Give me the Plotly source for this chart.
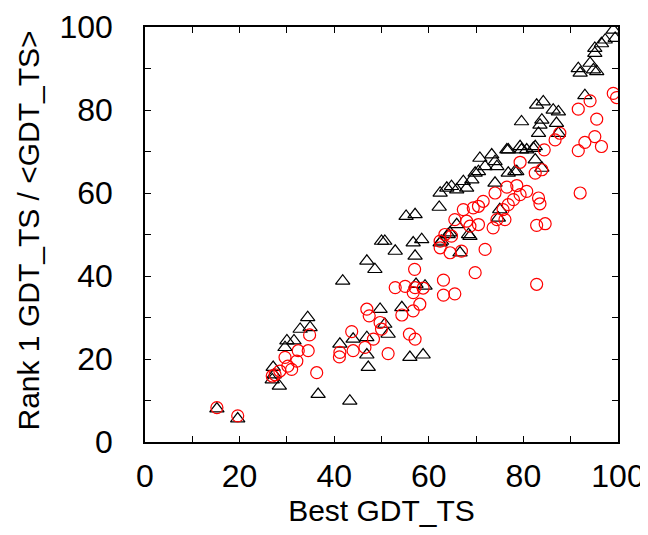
import plotly.graph_objects as go

# Black open triangles (series 1): Best GDT_TS vs Rank 1 GDT_TS
tri_x = [15.2, 19.6, 27.1, 27.3, 26.9, 28.4, 29.6, 30.0, 31.5, 32.8, 34.4, 34.9, 36.6,
         41.2, 43.3, 44.0, 46.9, 46.9, 47.2, 41.8, 46.9, 48.6, 50.0, 50.7, 49.7, 50.7,
         51.4, 52.9, 55.2, 57.1, 56.7, 58.5, 57.1, 57.3, 54.3, 56.0, 58.8, 59.2, 62.2,
         62.4, 63.8, 64.8, 65.9, 67.3, 68.0, 69.1, 69.8, 70.5, 70.8, 71.9, 73.3, 74.0,
         74.4, 74.0, 76.8, 76.8, 78.6, 79.3, 80.7, 82.5, 75.0, 74.7, 65.9, 64.5, 68.7,
         62.7, 66.6, 62.4, 64.1, 68.4, 84.2, 82.8, 86.3, 87.4, 79.6, 83.9, 83.5, 87.0,
         83.2, 87.4, 82.1, 82.5, 83.9, 78.2, 76.5, 79.6, 93.0, 91.6, 92.0, 94.8, 95.5,
         94.1, 95.1, 95.1, 96.5, 97.3, 99.4, 99.0]
tri_y = [8.0, 5.6, 18.0, 16.2, 15.0, 13.5, 22.8, 24.4, 24.4, 27.2, 30.0, 27.6, 11.5,
         23.6, 9.9, 24.8, 25.2, 21.0, 18.0, 38.8, 43.6, 41.6, 48.4, 48.4, 32.0, 28.4,
         26.0, 46.0, 54.4, 54.8, 48.0, 48.8, 44.8, 38.0, 32.4, 20.4, 21.0, 37.6, 56.6,
         60.0, 61.2, 61.6, 60.8, 62.8, 61.2, 63.2, 64.8, 65.2, 68.4, 66.4, 69.2, 67.6,
         66.4, 62.4, 70.4, 64.8, 65.2, 71.2, 70.4, 71.2, 56.0, 54.0, 52.4, 50.4, 49.6,
         48.4, 45.6, 48.0, 50.0, 50.0, 82.0, 81.2, 80.0, 79.6, 77.2, 77.6, 76.4, 76.8,
         74.4, 74.4, 70.8, 68.0, 66.0, 65.2, 70.4, 70.4, 83.5, 90.0, 88.9, 89.7, 89.3,
         91.3, 94.9, 93.7, 96.0, 96.9, 97.3, 99.3]

# Red open circles (series 2): Best GDT_TS vs <GDT_TS>
cir_x = [15.2, 19.6, 26.9, 27.5, 28.5, 29.6, 30.2, 31.0, 32.1, 32.4, 34.5, 34.8, 36.3,
         41.2, 41.1, 43.7, 44.0, 46.5, 48.3, 46.9, 47.4, 49.7, 50.0, 51.4, 55.9, 57.1,
         54.3, 56.7, 58.1, 52.9, 55.0, 57.1, 58.8, 57.0, 56.7, 63.1, 63.1, 65.5, 62.4,
         62.4, 63.4, 64.8, 64.5, 66.9, 65.5, 67.3, 68.0, 68.7, 69.4, 70.5, 70.5, 71.5,
         71.9, 69.8, 73.6, 74.4, 76.1, 74.0, 75.7, 76.8, 77.9, 79.3, 76.5, 78.6, 80.7,
         83.2, 83.5, 82.8, 84.6, 82.8, 79.3, 82.5, 83.9, 84.4, 86.7, 87.7, 91.6, 92.0,
         93.0, 95.1, 96.5, 95.5, 91.6, 94.1, 99.0, 99.7]
cir_y = [8.3, 6.3, 15.9, 16.2, 17.1, 20.4, 18.3, 17.5, 19.5, 22.0, 22.0, 25.8, 16.7,
         21.6, 20.5, 26.6, 22.0, 22.8, 24.8, 32.0, 30.4, 28.8, 27.2, 21.3, 26.0, 24.8,
         30.6, 31.6, 33.2, 37.2, 37.5, 37.2, 37.1, 41.6, 36.0, 39.0, 35.4, 35.7, 48.4,
         46.8, 50.0, 49.6, 45.6, 46.0, 53.6, 56.0, 53.2, 52.0, 56.4, 56.8, 52.4, 58.0,
         46.4, 40.8, 51.6, 53.6, 53.6, 60.0, 56.0, 57.2, 58.4, 59.6, 61.4, 61.8, 60.4,
         58.8, 57.4, 52.2, 52.6, 38.0, 67.4, 64.8, 65.6, 70.4, 72.8, 74.4, 70.2, 60.0,
         72.2, 73.6, 71.2, 77.8, 80.2, 82.2, 84.0, 83.0]

x_ticks = [0, 20, 40, 60, 80, 100]
y_ticks = [0, 20, 40, 60, 80, 100]

FONT = "Liberation Sans, Arial, sans-serif"

fig = go.Figure()
fig.add_trace(go.Scatter(
    x=tri_x, y=tri_y, mode="markers", name="Rank 1",
    marker=dict(symbol="triangle-up-open", size=12.5, color="black",
                line=dict(width=1.2, color="black")),
))
fig.add_trace(go.Scatter(
    x=cir_x, y=cir_y, mode="markers", name="Average",
    marker=dict(symbol="circle-open", size=12, color="red",
                line=dict(width=1.2, color="red")),
))

axis_common = dict(
    showgrid=False, zeroline=False, showline=True, linecolor="black", linewidth=1.5,
    mirror="ticks", ticks="inside", ticklen=6, tickwidth=1, tickcolor="black",
    minor=dict(ticks="inside", ticklen=6, tickwidth=1, tickcolor="black", dtick=10, showgrid=False),
    tickfont=dict(family=FONT, size=32, color="black"),
    automargin=False,
)

# page body has an 8px default margin, so margins are offset to compensate
fig.update_layout(
    width=648, height=535,
    margin=dict(l=137, r=38, t=19, b=101),
    paper_bgcolor="white", plot_bgcolor="white",
    showlegend=False,
    xaxis=dict(range=[0, 100], tickvals=x_ticks, ticktext=[str(v) for v in x_ticks],
               ticklabelstandoff=5,
               title=dict(text="Best GDT_TS", font=dict(family=FONT, size=30, color="black"), standoff=7),
               **axis_common),
    yaxis=dict(range=[0, 100], tickvals=y_ticks, ticktext=[str(v) for v in y_ticks],
               ticklabelstandoff=24,
               **axis_common),
    annotations=[dict(
        text="Rank 1 GDT_TS / &lt;GDT_TS&gt;", textangle=-90,
        xref="paper", yref="paper", x=0, y=0.5, xanchor="center", yanchor="middle",
        xshift=-117, yshift=4, showarrow=False,
        font=dict(family=FONT, size=30, color="black"),
    )],
)

fig.write_html("out.html")
